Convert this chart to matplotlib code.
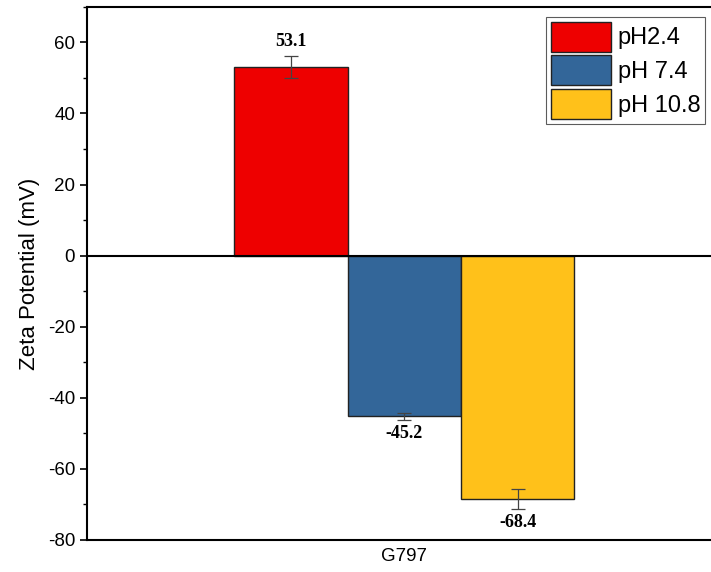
import matplotlib.pyplot as plt
from matplotlib.ticker import MultipleLocator

categories = ["G797"]
series_names = ["pH2.4", "pH 7.4", "pH 10.8"]
values = [53.1, -45.2, -68.4]
errors = [3.2, 1.0, 2.8]
colors = ["#ee0000", "#336699", "#ffc11a"]

plt.rcParams['font.family'] = ['Liberation Sans', 'DejaVu Sans']
plt.rcParams['axes.unicode_minus'] = False

fig = plt.figure(figsize=(7.11, 5.72), dpi=100)
ax = fig.add_axes([0.1224, 0.056, 0.894, 0.932])

width = 0.32
offsets = [-width, 0.0, width]
for name, v, e, c, off in zip(series_names, values, errors, colors, offsets):
    ax.bar(off, v, width=width, color=c, edgecolor="#222222", linewidth=1.0,
           label=name, zorder=2)
    ax.errorbar(off, v, yerr=e, fmt="none", ecolor="#444444", elinewidth=0.9,
                capsize=5, capthick=0.9, zorder=3)
    if v >= 0:
        ty = v + e + 1.5
        va = "bottom"
    else:
        ty = v - e - 1.5
        va = "top"
    ax.text(off, ty, f"{v:.1f}", ha="center", va=va, fontsize=13,
            fontweight="bold", family=["Liberation Serif", "DejaVu Serif"], zorder=4)

ax.axhline(0, color="black", linewidth=1.5, zorder=4)

ax.set_xlim(-0.895, 0.898)
ax.set_ylim(-80, 70)
ax.set_xticks([0])
ax.set_xticklabels(categories, fontsize=13.5)
ax.tick_params(axis="x", length=0, pad=6)
ax.yaxis.set_major_locator(MultipleLocator(20))
ax.yaxis.set_minor_locator(MultipleLocator(10))
ax.tick_params(axis="y", which="major", direction="out", length=5, width=1.2, labelsize=13.5)
ax.tick_params(axis="y", which="minor", direction="out", length=3, width=1.0)
ax.set_ylabel("Zeta Potential (mV)", fontsize=16, labelpad=6)
for s in ax.spines.values():
    s.set_linewidth(1.5)

leg = ax.legend(loc="upper left", bbox_to_anchor=(546 / 711, 1 - 17 / 572),
                bbox_transform=fig.transFigure, fontsize=17,
                frameon=True, fancybox=False, edgecolor="#333333",
                handlelength=2.54, handleheight=1.58, handletextpad=0.3,
                labelspacing=0.15, borderpad=0.2, borderaxespad=0)
leg.get_frame().set_linewidth(0.8)

fig.savefig("out.png", dpi=100)
